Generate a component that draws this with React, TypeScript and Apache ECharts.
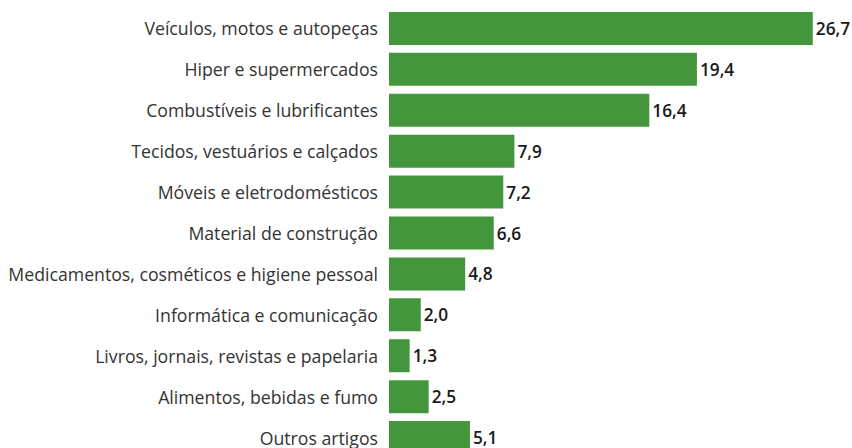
import React, { useEffect, useRef } from "react";
import * as echarts from "echarts";

const categories = [
  "Veículos, motos e autopeças",
  "Hiper e supermercados",
  "Combustíveis e lubrificantes",
  "Tecidos, vestuários e calçados",
  "Móveis e eletrodomésticos",
  "Material de construção",
  "Medicamentos, cosméticos e higiene pessoal",
  "Informática e comunicação",
  "Livros, jornais, revistas e papelaria",
  "Alimentos, bebidas e fumo",
  "Outros artigos",
];
const values = [26.7, 19.4, 16.4, 7.9, 7.2, 6.6, 4.8, 2.0, 1.3, 2.5, 5.1];

export default function App() {
  const ref = useRef<HTMLDivElement>(null);
  useEffect(() => {
    if (!ref.current) return;
    const chart = echarts.init(ref.current, null, { renderer: "svg" });
    chart.setOption({
      animation: false,
      grid: { left: 389, top: 8, bottom: 12, right: 18.6, containLabel: false, outerBoundsMode: "none" },
      xAxis: {
        type: "value",
        min: 0,
        max: 28,
        show: false,
      },
      yAxis: {
        type: "category",
        data: categories,
        inverse: true,
        axisLine: { show: false },
        axisTick: { show: false },
        axisLabel: {
          margin: 11,
          color: "#333333",
          fontSize: 17.7,
          fontFamily: "Open Sans",
        },
      },
      series: [
        {
          type: "bar",
          data: values,
          barCategoryGap: "19.3%",
          itemStyle: { color: "#43963b" },
          label: {
            show: true,
            position: "right",
            distance: 3,
            color: "#1a1a1a",
            fontSize: 17.3,
            fontWeight: 600,
            fontFamily: "Open Sans",
            formatter: (p: any) => p.value.toFixed(1).replace(".", ","),
          },
        },
      ],
    });
    return () => chart.dispose();
  }, []);
  return (
    <div
      ref={ref}
      style={{ position: "absolute", left: 0, top: 0, width: 852, height: 470 }}
    />
  );
}
